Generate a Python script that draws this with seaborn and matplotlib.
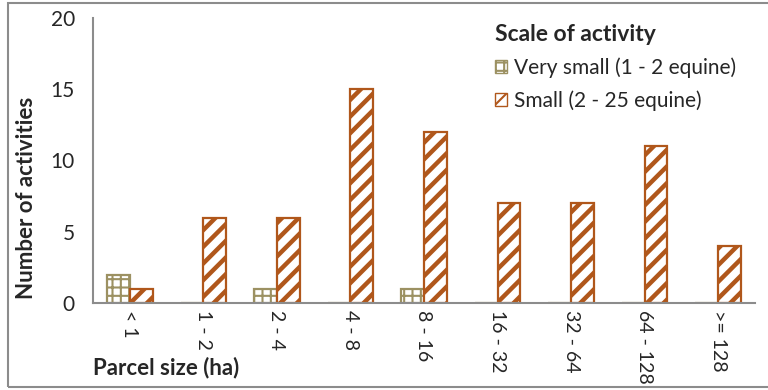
import matplotlib
matplotlib.use("Agg")
import matplotlib.pyplot as plt
import matplotlib.patches as mpatches
import seaborn as sns
import pandas as pd

# Datos
categorias = ["< 1", "1 - 2", "2 - 4", "4 - 8", "8 - 16", "16 - 32", "32 - 64", "64 - 128", ">= 128"]
muy_pequena = [2, 0, 1, 0, 1, 0, 0, 0, 0]
pequena = [1, 6, 6, 15, 12, 7, 7, 11, 4]
series = ["Very small (1 - 2 equine)", "Small (2 - 25 equine)"]

color_muy_pequena = "#9C9162"
color_pequena = "#B0571B"
color_ejes = "#8C8C8C"

sns.set_style("white")
plt.rcParams["font.family"] = ["Lato", "DejaVu Sans"]
plt.rcParams["hatch.linewidth"] = 1.5

datos = pd.DataFrame({
    "categoria": categorias * 2,
    "valor": muy_pequena + pequena,
    "serie": [series[0]] * len(categorias) + [series[1]] * len(categorias),
})

figura = plt.figure(figsize=(7.68, 3.90), dpi=100)
area = figura.add_axes([93 / 768, 1 - 303 / 390, (755 - 93) / 768, (303 - 18) / 390])

sns.barplot(data=datos, x="categoria", y="valor", hue="serie", order=categorias,
            hue_order=series, width=0.62, ax=area, legend=False)

# Estilo de las barras con tramas
estilos = [(color_muy_pequena, "++", 1.5), (color_pequena, "//", 3.2)]
for contenedor, (color, trama, grosor) in zip(area.containers, estilos):
    for barra in contenedor:
        barra.set_facecolor("white")
        barra.set_edgecolor(color)
        barra.set_hatch(trama)
        barra.set_linewidth(1.6)
        if hasattr(barra, "set_hatch_linewidth"):
            barra.set_hatch_linewidth(grosor)

area.set_ylim(0, 20)
area.set_xlim(-0.5, len(categorias) - 0.5)
area.set_yticks([0, 5, 10, 15, 20])
area.set_xticks(range(len(categorias)))
area.set_xticklabels(categorias, rotation=-90, fontsize=14)
area.tick_params(axis="y", labelsize=15, length=7, color=color_ejes, width=1.2, direction="out", pad=6)
area.tick_params(axis="x", length=0, pad=5)
# Marcas entre categorías
area.set_xticks([i - 0.5 for i in range(len(categorias) + 1)], minor=True)
area.tick_params(axis="x", which="minor", length=7, color=color_ejes, width=1.2, direction="out")

for lado in ["top", "right"]:
    area.spines[lado].set_visible(False)
for lado in ["left", "bottom"]:
    area.spines[lado].set_color(color_ejes)
    area.spines[lado].set_linewidth(1.5)

area.set_xlabel("")
area.set_ylabel("Number of activities", fontsize=16, fontweight="bold")
area.yaxis.set_label_coords(-56 / 662, 0.37)
figura.text(93 / 768, 1 - 368 / 390, "Parcel size (ha)", fontsize=16, fontweight="bold",
            ha="left", va="center")

# Leyenda
manijas = [
    mpatches.Patch(facecolor="white", edgecolor=color_muy_pequena, hatch="++", label=series[0]),
    mpatches.Patch(facecolor="white", edgecolor=color_pequena, hatch="//", label=series[1]),
]
leyenda = area.legend(handles=manijas, title="Scale of activity", loc="upper left",
                      bbox_to_anchor=(0.585, 1.03), frameon=False, fontsize=15,
                      title_fontproperties={"weight": "bold", "size": 16.5},
                      handlelength=0.6, handleheight=0.6, handletextpad=0.3,
                      labelspacing=0.6, alignment="left", borderpad=0.2)

# Borde del área del gráfico
figura.add_artist(mpatches.Rectangle((8 / 768, 3 / 390), 1.0, 384 / 390, transform=figura.transFigure,
                                     fill=False, edgecolor=color_ejes, linewidth=1.5))

figura.savefig("out.png", dpi=100)
plt.close(figura)
